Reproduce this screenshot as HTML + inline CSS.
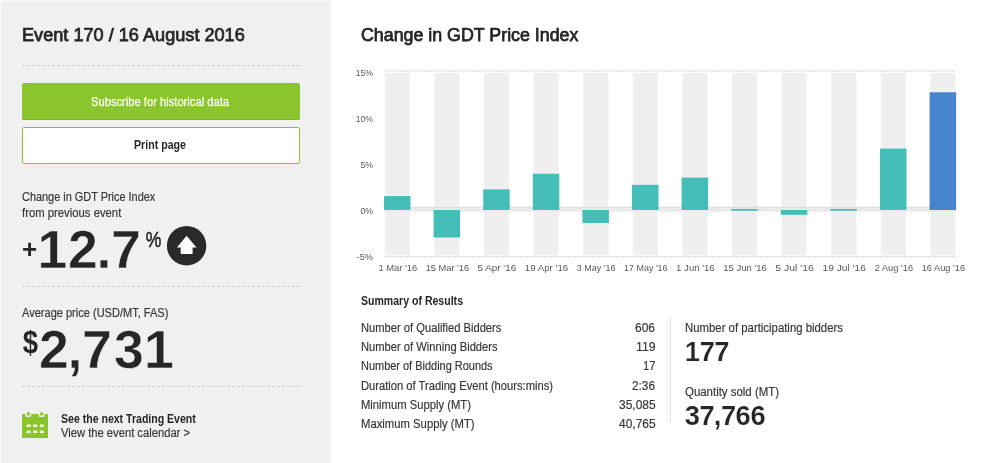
<!DOCTYPE html>
<html lang="en"><head><meta charset="utf-8"><title>GDT Event 170 / 16 August 2016</title>
<style>
*{margin:0;padding:0;box-sizing:border-box}
html,body{width:1000px;height:463px;overflow:hidden;background:#fff}
body{position:relative;font-family:"Liberation Sans", sans-serif;color:#444}
.panel{position:absolute;left:0;top:0;width:331px;height:463px;background:#f0f0f0;box-shadow:inset 1px 1px 0 #fafafa}
.content{position:absolute;left:0;top:0;width:0;height:0}
.stat,.next,.summary,.kpi,dl,dt,dd{position:static;display:block}
.ico{position:absolute}
h2,h3{font-weight:400}
.t{position:absolute;white-space:nowrap;line-height:1;transform-origin:0 0;display:block;font-weight:400}
.hr{position:absolute;left:22px;width:278px;height:0;border-top:1px dashed #cfcfcf}
.btn{position:absolute;left:22px;width:278px;height:37px;border-radius:2px;display:block}
.btn.g{top:83px;background:#8ac52e;box-shadow:inset 0 -1px 0 #7cb727}
.btn.w{top:127px;background:#fff;border:1px solid #8ac52e}
.chart{position:absolute;left:330px;top:0}
.big{position:absolute;left:0;top:0}
svg text{font-family:"Liberation Sans",sans-serif}
.vdot{position:absolute;left:670px;top:319px;width:0;height:103px;border-left:1px dotted #d0d0d0}
</style></head>
<body>
<aside class="panel">
<h2 class="t" id="evt" style="left:22.4px;top:26.1px;font-size:18px;color:#262626;-webkit-text-stroke:.75px #262626;transform:scaleX(1.0073);">Event 170 / 16 August 2016</h2>
<div class="hr" style="top:65px"></div>
<a class="btn g"><span class="t" id="sub" style="left:69.0px;top:13.1px;font-size:12px;color:#fff;-webkit-text-stroke:.25px #fff;transform:scaleX(0.9319);">Subscribe for historical data</span></a>
<a class="btn w"><span class="t" id="prt" style="left:111.0px;top:11.1px;font-size:12px;font-weight:700;color:#262626;transform:scaleX(0.8860);">Print page</span></a>
<div class="stat"><span class="t" id="chg1" style="left:22.0px;top:191.1px;font-size:12px;color:#363636;-webkit-text-stroke:.18px #363636;transform:scaleX(0.9097);">Change in GDT Price Index</span><span class="t" id="chg2" style="left:22.0px;top:207.1px;font-size:12px;color:#363636;-webkit-text-stroke:.18px #363636;transform:scaleX(0.9422);">from previous event</span>
<svg class="big" width="331" height="463" viewBox="0 0 331 463" font-weight="700" fill="#262626">
<text x="21.9" y="258.2" font-size="26">+</text>
<text x="37.6 68.1 96.6 111.0" y="268.1" font-size="53.6" stroke="#f0f0f0" stroke-width=".5">12.7</text>
<text x="145.8" y="246.9" font-size="22.5" font-weight="400" stroke="#262626" stroke-width=".55" textLength="15.6" lengthAdjust="spacingAndGlyphs">%</text>
<text x="22.8" y="353.3" font-size="32" textLength="15.3" lengthAdjust="spacingAndGlyphs">$</text>
<text x="39.1 67.5 82.1 114.0 143.9" y="368.1" font-size="53.6" stroke="#f0f0f0" stroke-width=".5">2,731</text>
</svg>
<svg class="ico" style="left:166px;top:225px" width="42" height="42" viewBox="166 225 42 42"><circle cx="186.6" cy="245.8" r="19.7" fill="#2a2a2a"/><path d="M186.6 235.7L196.5 247.4H192.6V253.9H180.7V247.4H176.9Z" fill="#fff"/></svg>
</div>
<div class="hr" style="top:286px"></div>
<div class="stat"><span class="t" id="avg" style="left:22.0px;top:307.1px;font-size:12px;color:#363636;-webkit-text-stroke:.18px #363636;transform:scaleX(0.9198);">Average price (USD/MT, FAS)</span></div>
<div class="hr" style="top:386px"></div>
<a class="next">
<svg class="ico" style="left:21px;top:411px" width="28" height="28" viewBox="21 411 28 28"><rect x="22" y="414" width="26" height="24" fill="#8ac52e"/><g fill="#f0f0f0"><rect x="25.4" y="413" width="5.8" height="4" rx="1.5"/><rect x="38.7" y="413" width="5.8" height="4" rx="1.5"/></g><g fill="#8ac52e"><rect x="26.9" y="412.2" width="2.9" height="3.4" rx=".8"/><rect x="40.2" y="412.2" width="2.9" height="3.4" rx=".8"/></g><g fill="#f4f9ea"><rect x="26.7" y="424.5" width="4" height="2.5"/><rect x="33.2" y="424.5" width="4" height="2.5"/><rect x="39.8" y="424.5" width="4" height="2.5"/><rect x="26.7" y="430.6" width="4" height="2.5"/><rect x="33.2" y="430.6" width="4" height="2.5"/><rect x="39.8" y="430.6" width="4" height="2.5"/></g></svg>
<span class="t" id="see" style="left:61.4px;top:413.1px;font-size:12px;font-weight:700;color:#262626;transform:scaleX(0.8789);">See the next Trading Event</span><span class="t" id="view" style="left:61.4px;top:427.1px;font-size:12px;color:#363636;-webkit-text-stroke:.18px #363636;transform:scaleX(0.9333);">View the event calendar &gt;</span>
</a>
</aside>
<main class="content">
<h2 class="t" id="ttl" style="left:360.6px;top:26.1px;font-size:18px;color:#262626;-webkit-text-stroke:.75px #262626;transform:scaleX(0.9892);">Change in GDT Price Index</h2>
<svg class="chart" width="670" height="463" viewBox="330 0 670 463">
<g fill="#efefef">
<rect x="384.8" y="73.0" width="25.1" height="182.5"/>
<rect x="434.4" y="73.0" width="25.1" height="182.5"/>
<rect x="484.0" y="73.0" width="25.1" height="182.5"/>
<rect x="533.6" y="73.0" width="25.1" height="182.5"/>
<rect x="583.2" y="73.0" width="25.1" height="182.5"/>
<rect x="632.8" y="73.0" width="25.1" height="182.5"/>
<rect x="682.4" y="73.0" width="25.1" height="182.5"/>
<rect x="732.0" y="73.0" width="25.1" height="182.5"/>
<rect x="781.6" y="73.0" width="25.1" height="182.5"/>
<rect x="831.2" y="73.0" width="25.1" height="182.5"/>
<rect x="880.8" y="73.0" width="25.1" height="182.5"/>
<rect x="930.4" y="73.0" width="25.1" height="182.5"/>
</g>
<path d="M385 71.0H956" stroke="#d0d0d0" stroke-width="1" stroke-dasharray="2 1" fill="none"/>
<path d="M385 256.7H956" stroke="#d0d0d0" stroke-width="1" stroke-dasharray="2 1" fill="none"/>
<rect x="384" y="207.3" width="572" height="4.4" fill="#eaeaea"/>
<rect x="384" y="206.8" width="572" height="1" fill="#dadada"/>
<rect x="384.0" y="196.1" width="26.5" height="13.9" fill="#45bdb8"/>
<rect x="433.6" y="210.0" width="26.5" height="27.5" fill="#45bdb8"/>
<rect x="483.2" y="189.4" width="26.5" height="20.6" fill="#45bdb8"/>
<rect x="532.8" y="173.8" width="26.5" height="36.2" fill="#45bdb8"/>
<rect x="582.4" y="210.0" width="26.5" height="13.0" fill="#45bdb8"/>
<rect x="632.0" y="184.8" width="26.5" height="25.2" fill="#45bdb8"/>
<rect x="681.6" y="177.6" width="26.5" height="32.4" fill="#45bdb8"/>
<rect x="731.2" y="209.0" width="26.5" height="1.7" fill="#45bdb8"/>
<rect x="780.8" y="210.0" width="26.5" height="4.8" fill="#45bdb8"/>
<rect x="830.4" y="209.0" width="26.5" height="1.7" fill="#45bdb8"/>
<rect x="880.0" y="148.6" width="26.5" height="61.4" fill="#45bdb8"/>
<rect x="929.6" y="92.3" width="26.5" height="117.7" fill="#4684d0"/>
<g font-size="9.8" fill="#585858" text-anchor="end">
<text x="373" y="76.2" textLength="17.3" lengthAdjust="spacingAndGlyphs">15%</text>
<text x="373" y="122.2" textLength="17.3" lengthAdjust="spacingAndGlyphs">10%</text>
<text x="373" y="168.2" textLength="12.6" lengthAdjust="spacingAndGlyphs">5%</text>
<text x="373" y="214.2" textLength="12.6" lengthAdjust="spacingAndGlyphs">0%</text>
<text x="373" y="260.2" textLength="16.4" lengthAdjust="spacingAndGlyphs">-5%</text>
</g>
<g font-size="9.8" fill="#585858" text-anchor="middle">
<text x="397.8" y="271.2" textLength="38.6" lengthAdjust="spacingAndGlyphs">1 Mar &#39;16</text>
<text x="447.4" y="271.2" textLength="43.5" lengthAdjust="spacingAndGlyphs">15 Mar &#39;16</text>
<text x="496.9" y="271.2" textLength="38.6" lengthAdjust="spacingAndGlyphs">5 Apr &#39;16</text>
<text x="546.5" y="271.2" textLength="43.5" lengthAdjust="spacingAndGlyphs">19 Apr &#39;16</text>
<text x="596.1" y="271.2" textLength="38.6" lengthAdjust="spacingAndGlyphs">3 May &#39;16</text>
<text x="645.8" y="271.2" textLength="43.5" lengthAdjust="spacingAndGlyphs">17 May &#39;16</text>
<text x="695.4" y="271.2" textLength="38.6" lengthAdjust="spacingAndGlyphs">1 Jun &#39;16</text>
<text x="745.0" y="271.2" textLength="43.5" lengthAdjust="spacingAndGlyphs">15 Jun &#39;16</text>
<text x="794.5" y="271.2" textLength="38.6" lengthAdjust="spacingAndGlyphs">5 Jul &#39;16</text>
<text x="844.2" y="271.2" textLength="43.5" lengthAdjust="spacingAndGlyphs">19 Jul &#39;16</text>
<text x="893.8" y="271.2" textLength="38.6" lengthAdjust="spacingAndGlyphs">2 Aug &#39;16</text>
<text x="943.4" y="271.2" textLength="43.5" lengthAdjust="spacingAndGlyphs">16 Aug &#39;16</text>
</g>
</svg>
<section class="summary">
<h3 class="t" id="sum" style="left:361.2px;top:295.1px;font-size:12px;font-weight:700;color:#262626;transform:scaleX(0.8790);">Summary of Results</h3>
<dl>
<dt><span class="t" id="rl0" style="left:361.4px;top:322.1px;font-size:12px;color:#363636;-webkit-text-stroke:.18px #363636;transform:scaleX(0.9313);">Number of Qualified Bidders</span></dt><dd><span class="t" id="rv0" style="left:635.3px;top:322.1px;font-size:12px;color:#363636;-webkit-text-stroke:.18px #363636;transform:scaleX(0.9984);">606</span></dd>
<dt><span class="t" id="rl1" style="left:361.4px;top:341.1px;font-size:12px;color:#363636;-webkit-text-stroke:.18px #363636;transform:scaleX(0.9309);">Number of Winning Bidders</span></dt><dd><span class="t" id="rv1" style="left:635.8px;top:341.1px;font-size:12px;color:#363636;-webkit-text-stroke:.18px #363636;transform:scaleX(1.0188);">119</span></dd>
<dt><span class="t" id="rl2" style="left:361.4px;top:360.1px;font-size:12px;color:#363636;-webkit-text-stroke:.18px #363636;transform:scaleX(0.9133);">Number of Bidding Rounds</span></dt><dd><span class="t" id="rv2" style="left:642.8px;top:360.1px;font-size:12px;color:#363636;-webkit-text-stroke:.18px #363636;transform:scaleX(0.9357);">17</span></dd>
<dt><span class="t" id="rl3" style="left:361.4px;top:380.1px;font-size:12px;color:#363636;-webkit-text-stroke:.18px #363636;transform:scaleX(0.9316);">Duration of Trading Event (hours:mins)</span></dt><dd><span class="t" id="rv3" style="left:632.3px;top:380.1px;font-size:12px;color:#363636;-webkit-text-stroke:.18px #363636;transform:scaleX(0.9846);">2:36</span></dd>
<dt><span class="t" id="rl4" style="left:361.4px;top:399.1px;font-size:12px;color:#363636;-webkit-text-stroke:.18px #363636;transform:scaleX(0.9373);">Minimum Supply (MT)</span></dt><dd><span class="t" id="rv4" style="left:618.7px;top:399.1px;font-size:12px;color:#363636;-webkit-text-stroke:.18px #363636;transform:scaleX(0.9972);">35,085</span></dd>
<dt><span class="t" id="rl5" style="left:361.4px;top:418.1px;font-size:12px;color:#363636;-webkit-text-stroke:.18px #363636;transform:scaleX(0.9413);">Maximum Supply (MT)</span></dt><dd><span class="t" id="rv5" style="left:618.7px;top:418.1px;font-size:12px;color:#363636;-webkit-text-stroke:.18px #363636;transform:scaleX(0.9972);">40,765</span></dd>
</dl>
<div class="vdot"></div>
<div class="kpi"><span class="t" id="np" style="left:684.8px;top:322.1px;font-size:12px;color:#363636;-webkit-text-stroke:.18px #363636;transform:scaleX(0.9474);">Number of participating bidders</span><span class="t" id="qs" style="left:684.8px;top:386.1px;font-size:12px;color:#363636;-webkit-text-stroke:.18px #363636;transform:scaleX(0.9524);">Quantity sold (MT)</span><svg class="chart" width="670" height="463" viewBox="330 0 670 463">
<g font-weight="700" fill="#262626" stroke="#fff" stroke-width=".2" font-size="27.3">
<text x="684.7 699.7 714.2" y="360.55">177</text>
<text x="684.8 699.4 713.7 720.9 735.6 750.6" y="425.05">37,766</text>
</g>
</svg></div>
</section>
</main>
</body></html>
